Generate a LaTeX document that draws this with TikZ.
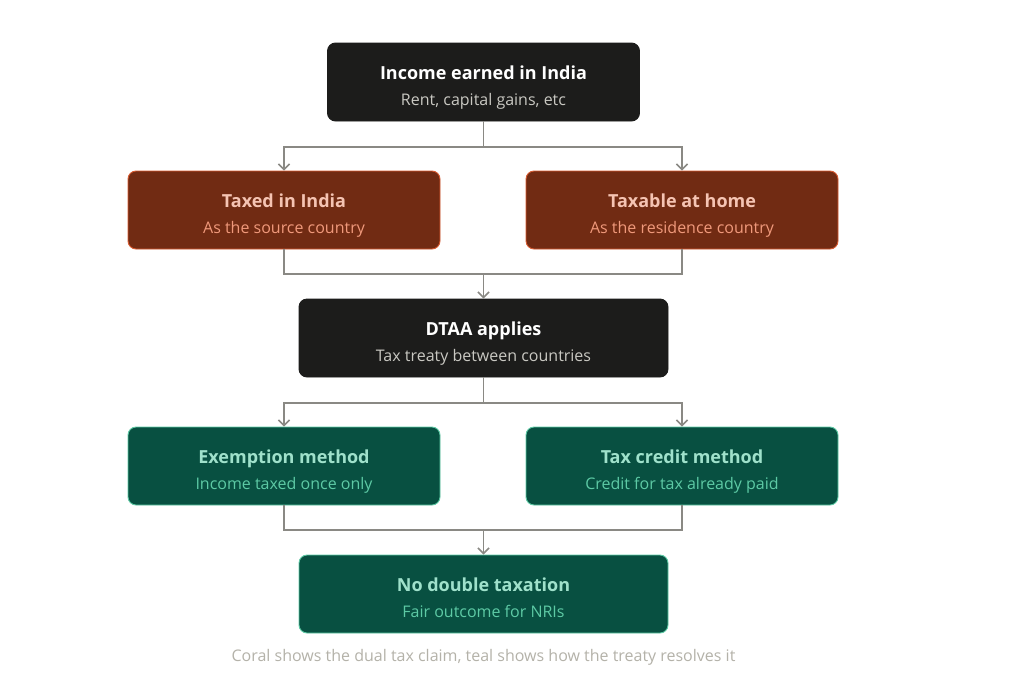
\documentclass[tikz,border=0pt]{standalone}
\usepackage{fontspec}
\setmainfont{Open Sans}
\usetikzlibrary{arrows.meta}
\definecolor{darkfill}{HTML}{1C1C1B}
\definecolor{darktitle}{HTML}{FFFFFF}
\definecolor{darksub}{HTML}{C9C8C2}
\definecolor{coralfill}{HTML}{712B13}
\definecolor{coraldraw}{HTML}{D85A30}
\definecolor{coraltitle}{HTML}{F5C4B3}
\definecolor{coralsub}{HTML}{F0997B}
\definecolor{tealfill}{HTML}{085041}
\definecolor{tealdraw}{HTML}{5DCAA5}
\definecolor{tealtitle}{HTML}{9FE1CB}
\definecolor{tealsub}{HTML}{5DCAA5}
\definecolor{linegray}{HTML}{8A8984}
\definecolor{capgray}{HTML}{B4B2A9}
\tikzset{
  box/.style={rectangle, rounded corners=8pt, line width=0.9pt, inner sep=0pt},
  darkbox/.style={box, fill=darkfill, draw=darkfill},
  coralbox/.style={box, fill=coralfill, draw=coraldraw},
  tealbox/.style={box, fill=tealfill, draw=tealdraw},
  wide/.style={minimum width=312pt, minimum height=78pt},
  wider/.style={minimum width=369pt, minimum height=78pt},
  ttl/.style={anchor=base, inner sep=0pt, font=\bfseries\fontsize{18}{21}\selectfont},
  sub/.style={anchor=base, inner sep=0pt, font=\fontsize{16}{19}\selectfont},
  lin/.style={draw=linegray, line width=1.6pt},
  conn/.style={lin, -{Straight Barb[length=5.5pt,width=11pt,line width=1.6pt]}},
}
\begin{document}
\begin{tikzpicture}[x=1pt,y=-1pt]
\useasboundingbox (0,0) rectangle (1024,683);
\fill[white] (0,0) rectangle (1024,683);

% boxes
\node[darkbox, wide] (top) at (483.5,82) {};
\node[coralbox, wide] (india) at (284,210) {};
\node[coralbox, wide] (home) at (682,210) {};
\node[darkbox, wider] (dtaa) at (483.5,338) {};
\node[tealbox, wide] (exem) at (284,466) {};
\node[tealbox, wide] (cred) at (682,466) {};
\node[tealbox, wider] (nodt) at (483.5,594) {};

% texts
\node[ttl, text=darktitle] (topT) at (483.5,79.5) {Income earned in India};
\node[sub, text=darksub] (topS) at (483.5,105) {Rent, capital gains, etc};
\node[ttl, text=coraltitle] (indiaT) at (284,207.5) {Taxed in India};
\node[sub, text=coralsub] (indiaS) at (284,233) {As the source country};
\node[ttl, text=coraltitle] (homeT) at (682,207.5) {Taxable at home};
\node[sub, text=coralsub] (homeS) at (682,233) {As the residence country};
\node[ttl, text=darktitle] (dtaaT) at (483.5,335.5) {DTAA applies};
\node[sub, text=darksub] (dtaaS) at (483.5,361) {Tax treaty between countries};
\node[ttl, text=tealtitle] (exemT) at (284,463.5) {Exemption method};
\node[sub, text=tealsub] (exemS) at (284,489) {Income taxed once only};
\node[ttl, text=tealtitle] (credT) at (682,463.5) {Tax credit method};
\node[sub, text=tealsub] (credS) at (682,489) {Credit for tax already paid};
\node[ttl, text=tealtitle] (nodtT) at (483.5,591.5) {No double taxation};
\node[sub, text=tealsub] (nodtS) at (483.5,617) {Fair outcome for NRIs};

\node[sub, text=capgray] (cap) at (483.5,661) {Coral shows the dual tax claim, teal shows how the treaty resolves it};

% connectors
\coordinate (s1) at (483.5,147);
\draw[lin] (top.south) -- (s1);
\draw[conn] (s1) -| (india.north);
\draw[conn] (s1) -| (home.north);
\coordinate (m1) at (483.5,274);
\draw[lin] (india.south) |- (m1);
\draw[lin] (home.south) |- (m1);
\draw[conn] (m1) -- (dtaa.north);
\coordinate (s2) at (483.5,403);
\draw[lin] (dtaa.south) -- (s2);
\draw[conn] (s2) -| (exem.north);
\draw[conn] (s2) -| (cred.north);
\coordinate (m2) at (483.5,530);
\draw[lin] (exem.south) |- (m2);
\draw[lin] (cred.south) |- (m2);
\draw[conn] (m2) -- (nodt.north);
\end{tikzpicture}
\end{document}
